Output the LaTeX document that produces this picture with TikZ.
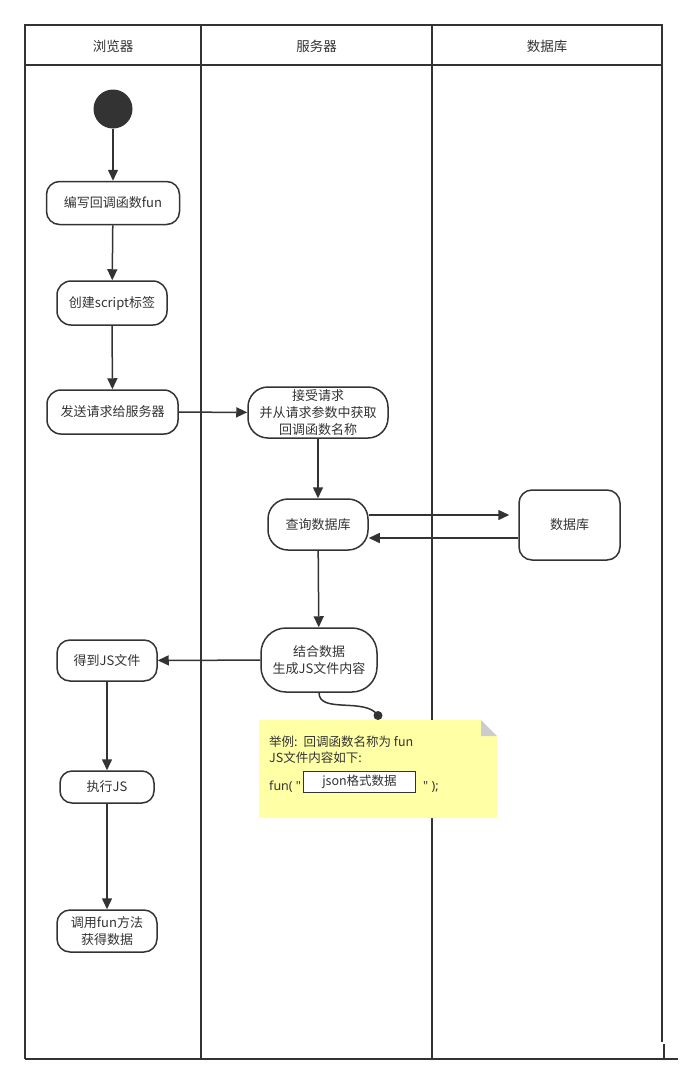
\documentclass[tikz,border=0pt]{standalone}
\usepackage{fontspec}
\setmainfont{Noto Sans CJK SC}
\newfontfamily\latfont{Noto Sans}
\usetikzlibrary{arrows.meta}
\definecolor{ln}{HTML}{333333}
\definecolor{notey}{RGB}{255,255,165}
\definecolor{foldg}{HTML}{CCCCCC}
\begin{document}
\begin{tikzpicture}[x=1pt,y=-1pt,
  act/.style={draw=ln, line width=1.5pt, fill=white, inner sep=0pt, align=center, text=ln,
    font=\fontsize{13pt}{17pt}\selectfont},
  arr/.style={draw=ln, line width=1.5pt, -{Triangle[length=11pt,width=10pt]}},
  pool/.style={draw=ln, line width=2pt},
  hdr/.style={font=\fontsize{13.5pt}{17pt}\selectfont, text=ln, inner sep=0pt},
  notetxt/.style={font=\fontsize{12.5pt}{16pt}\selectfont, text=ln, inner sep=0pt, anchor=west}]
\useasboundingbox (0,0) rectangle (686,1085);
% pool
\draw[pool] (25,1059) -- (25,25) -- (662,25) -- (662,1042);
\draw[pool] (664,1044) -- (664,1059);
\draw[pool] (25,1059) -- (678,1059);
\draw[pool] (25,65) -- (662,65);
\draw[pool] (201,25) -- (201,1059);
\draw[pool] (432,25) -- (432,1059);
\node[hdr] (h1) at (113,46) {浏览器};
\node[hdr] (h2) at (316.5,46) {服务器};
\node[hdr] (h3) at (547,46) {数据库};
% nodes
\node[circle, fill=ln, minimum size=39pt, inner sep=0pt] (start) at (113,109) {};
\node[act, minimum width=133pt, minimum height=43pt, rounded corners=13pt] (n1) at (113,203) {编写回调函数fun};
\node[act, minimum width=110pt, minimum height=44pt, rounded corners=14pt] (n2) at (112,303) {创建script标签};
\node[act, minimum width=131pt, minimum height=44pt, rounded corners=14pt] (n3) at (112.5,412) {发送请求给服务器};
\node[act, minimum width=140pt, minimum height=51pt, rounded corners=20pt] (n4) at (318,412.5) {接受请求\\并从请求参数中获取\\回调函数名称};
\node[act, minimum width=100pt, minimum height=51pt, rounded corners=20pt] (n5) at (318,524.5) {查询数据库};
\node[act, minimum width=101pt, minimum height=70pt, rounded corners=13pt] (db) at (569.5,525) {数据库};
\node[act, minimum width=116pt, minimum height=64pt, rounded corners=25pt] (n6) at (319,660) {结合数据\\生成JS文件内容};
\node[act, minimum width=100pt, minimum height=41pt, rounded corners=13pt] (n7) at (107,660.5) {得到JS文件};
\node[act, minimum width=94pt, minimum height=32pt, rounded corners=12pt] (n8) at (107,787) {执行JS};
\node[act, minimum width=100pt, minimum height=42pt, rounded corners=13pt] (n9) at (107,931) {调用fun方法\\获得数据};
% arrows
\draw[arr] (start) -- (n1);
\draw[arr] (n1) -- (n2);
\draw[arr] (n2) -- (n3);
\draw[arr] (n3) -- (n4);
\draw[arr] (n4) -- (n5);
\draw[arr, shorten >=9pt] ([yshift=9.5pt]n5.east) -- ([yshift=9.5pt]n5.east -| db.west);
\draw[arr] ([yshift=-13pt]db.west) -- ([yshift=-13pt]db.west -| n5.east);
\draw[arr] (n5) -- (n6);
\draw[arr] (n6) -- (n7);
\draw[arr] (n7) -- (n8);
\draw[arr] (n8) -- (n9);
% note
\fill[notey] (259,720) -- (481,720) -- (497,736) -- (497,818) -- (259,818) -- cycle;
\fill[foldg] (481,720) -- (481,736) -- (497,736) -- cycle;
\coordinate (dot) at (378,715.5);
\draw[ln, line width=1.5pt] (n6.south) .. controls (319,714) and (366,697) .. (dot);
\fill[ln] (dot) circle (4.5pt);
\node[notetxt] (t1) at (269,742) {举例:\hspace{6pt}回调函数名称为 fun};
\node[notetxt] (t2) at (269,758) {JS文件内容如下:};
\node[notetxt] (t3) at (269,787) {\latfont fun( "};
\node[draw=ln, line width=1pt, fill=white, minimum width=112pt, minimum height=21pt, inner sep=0pt,
  font=\fontsize{12.5pt}{16pt}\selectfont, text=ln] (jb) at (359.5,781.5) {json格式数据};
\node[notetxt] (t4) at (423,787) {\latfont " );};
\end{tikzpicture}
\end{document}
